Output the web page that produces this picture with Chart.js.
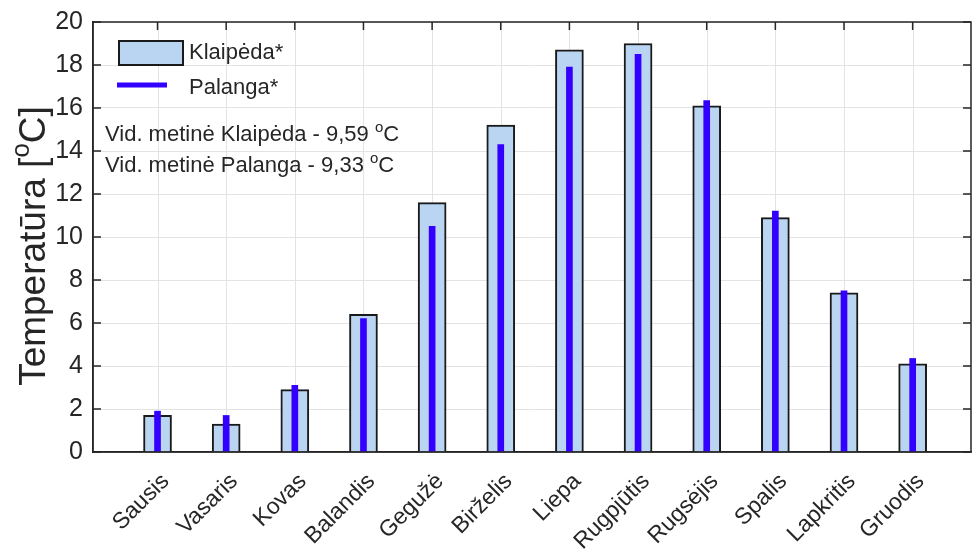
<!DOCTYPE html>
<html>
<head>
<meta charset="utf-8">
<script src="https://cdn.jsdelivr.net/npm/chart.js@4"></script>
<style>
  html, body { margin: 0; padding: 0; background: #fff; }
  #wrap { width: 972px; height: 551px; }
</style>
</head>
<body>
<div id="wrap"><canvas id="tempChart"></canvas></div>
<script>
// monthly mean temperatures
var months = ['Sausis', 'Vasaris', 'Kovas', 'Balandis', 'Gegužė', 'Birželis', 'Liepa', 'Rugpjūtis', 'Rugsėjis', 'Spalis', 'Lapkritis', 'Gruodis'];
var klaipeda = [1.7, 1.3, 2.9, 6.4, 11.6, 15.2, 18.7, 19.0, 16.1, 10.9, 7.4, 4.1];
var palanga = [1.9, 1.7, 3.1, 6.2, 10.5, 14.3, 17.9, 18.5, 16.35, 11.2, 7.5, 4.35];
var yTicks = [0, 2, 4, 6, 8, 10, 12, 14, 16, 18, 20];
var legendNames = ['Klaipėda*', 'Palanga*'];
var notes = ['Vid. metinė Klaipėda - 9,59 ', 'Vid. metinė Palanga - 9,33 '];
var yTitle = 'Temperatūra [';

var FONT = '"Liberation Sans", Arial, sans-serif';
var INK = '#262626';
var GRID = '#e3e3e3';

function toPoints(arr) {
  return arr.map(function (v, i) { return { x: i + 1, y: v }; });
}

// text with a raised small "o" (degree) followed by the rest
function drawSup(ctx, pre, sup, post, x, y, size) {
  ctx.font = size + 'px ' + FONT;
  ctx.fillText(pre, x, y);
  x += ctx.measureText(pre).width;
  ctx.font = Math.round(size * 0.7) + 'px ' + FONT;
  ctx.fillText(sup, x, y - size * 0.42);
  x += ctx.measureText(sup).width;
  ctx.font = size + 'px ' + FONT;
  ctx.fillText(post, x, y);
}

var decorations = {
  id: 'decorations',
  beforeDatasetsDraw: function (chart) {
    // vertical grid only at the month positions
    var ctx = chart.ctx, a = chart.chartArea, xs = chart.scales.x;
    ctx.save();
    ctx.strokeStyle = GRID;
    ctx.lineWidth = 1;
    ctx.beginPath();
    months.forEach(function (m, i) {
      var px = Math.round(xs.getPixelForValue(i + 1)) + 0.5;
      ctx.moveTo(px, a.top); ctx.lineTo(px, a.bottom);
    });
    ctx.stroke();
    ctx.restore();
  },
  afterDraw: function (chart) {
    var ctx = chart.ctx;
    var a = chart.chartArea;
    var xs = chart.scales.x, ys = chart.scales.y;
    ctx.save();

    // box + inward ticks
    ctx.strokeStyle = INK;
    ctx.lineWidth = 1.5;
    ctx.strokeRect(a.left, a.top, a.right - a.left, a.bottom - a.top);
    ctx.beginPath();
    yTicks.forEach(function (t) {
      var py = ys.getPixelForValue(t);
      ctx.moveTo(a.left, py); ctx.lineTo(a.left + 8, py);
      ctx.moveTo(a.right, py); ctx.lineTo(a.right - 8, py);
    });
    months.forEach(function (m, i) {
      var px = xs.getPixelForValue(i + 1);
      ctx.moveTo(px, a.top); ctx.lineTo(px, a.top + 8);
    });
    ctx.stroke();

    // legend
    var ds = chart.data.datasets;
    ctx.fillStyle = ds[1].backgroundColor;
    ctx.fillRect(119, 41, 64, 24);
    ctx.strokeStyle = '#1a1a1a';
    ctx.lineWidth = 2;
    ctx.strokeRect(119, 41, 64, 24);
    ctx.strokeStyle = ds[0].backgroundColor;
    ctx.lineWidth = 5;
    ctx.beginPath();
    ctx.moveTo(117, 85); ctx.lineTo(167, 85);
    ctx.stroke();
    ctx.fillStyle = INK;
    ctx.textBaseline = 'middle';
    ctx.font = '22px ' + FONT;
    ctx.fillText(legendNames[0], 189, 53);
    ctx.fillText(legendNames[1], 189, 88);

    // yearly averages
    ctx.textBaseline = 'alphabetic';
    drawSup(ctx, notes[0], 'o', 'C', 105, 141, 22);
    drawSup(ctx, notes[1], 'o', 'C', 105, 172, 22);

    // y title
    ctx.translate(45, 246);
    ctx.rotate(-Math.PI / 2);
    ctx.textAlign = 'left';
    ctx.font = '37px ' + FONT;
    var w = ctx.measureText(yTitle).width + ctx.measureText('C]').width;
    ctx.font = '26px ' + FONT;
    w += ctx.measureText('o').width;
    drawSup(ctx, yTitle, 'o', 'C]', -w / 2, 0, 37);
    ctx.restore();
  }
};

var ctx = document.getElementById('tempChart').getContext('2d');
var tempChart = new Chart(ctx, {
  type: 'bar',
  data: {
    datasets: [{
      label: legendNames[1],
      data: toPoints(palanga),
      backgroundColor: '#3300ff',
      borderWidth: 0,
      barThickness: 6,
      grouped: false,
      order: 0
    }, {
      label: legendNames[0],
      data: toPoints(klaipeda),
      backgroundColor: '#b9d5f2',
      borderColor: '#1a1a1a',
      borderWidth: 2,
      barThickness: 28,
      grouped: false,
      order: 1
    }]
  },
  options: {
    responsive: true,
    maintainAspectRatio: false,
    animation: false,
    layout: { padding: { top: 22, right: 1, left: 0, bottom: 0 } },
    plugins: {
      legend: { display: false },
      tooltip: { enabled: false }
    },
    scales: {
      x: {
        type: 'linear',
        offset: false,
        min: 0.06,
        max: 12.85,
        afterBuildTicks: function (s) {
          s.ticks = months.map(function (m, i) { return { value: i + 1 }; });
        },
        afterFit: function (s) { s.height = 99; s.paddingLeft = 0; s.paddingRight = 0; },
        ticks: {
          callback: function (v) { return months[v - 1]; },
          minRotation: 45,
          maxRotation: 45,
          autoSkip: false,
          padding: 8,
          labelOffset: 8,
          color: INK,
          font: { family: FONT, size: 23 }
        },
        grid: { display: false },
        border: { color: INK, width: 1.5 }
      },
      y: {
        min: 0,
        max: 20,
        afterBuildTicks: function (s) {
          s.ticks = yTicks.map(function (t) { return { value: t }; });
        },
        afterFit: function (s) { s.width = 93; s.paddingTop = 0; s.paddingBottom = 0; },
        ticks: {
          padding: 10,
          color: INK,
          font: { family: FONT, size: 25 }
        },
        grid: { color: GRID, drawTicks: false },
        border: { color: INK, width: 1.5 }
      }
    }
  },
  plugins: [decorations]
});
</script>
</body>
</html>
